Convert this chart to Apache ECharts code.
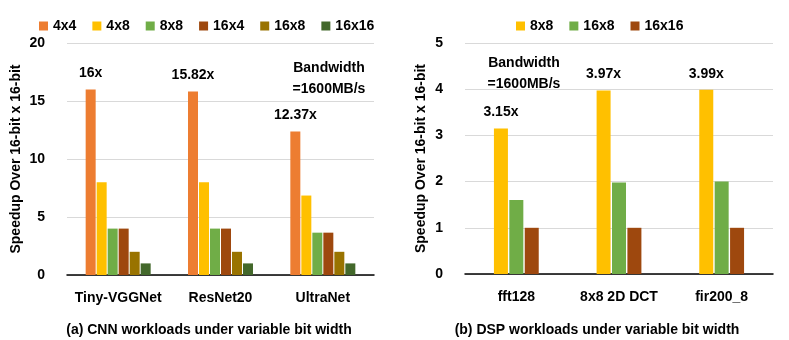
<!DOCTYPE html>
<html>
<head>
<meta charset="utf-8">
<script src="https://cdn.jsdelivr.net/npm/echarts@6/dist/echarts.min.js"></script>
<style>
  html, body { margin: 0; padding: 0; background: #fff; }
  #chart { width: 789px; height: 340px; }
</style>
</head>
<body>
<div id="chart"></div>
<script>
// Categories
const cnnWorkloads = ['Tiny-VGGNet', 'ResNet20', 'UltraNet'];
const dspWorkloads = ['fft128', '8x8 2D DCT', 'fir200_8'];

// (a) CNN speedups per bit width
const cnn4x4 = [16, 15.82, 12.37];
const cnn4x8 = [8, 8, 6.85];
const cnn8x8 = [4, 4, 3.65];
const cnn16x4 = [4, 4, 3.65];
const cnn16x8 = [2, 2, 2];
const cnn16x16 = [1, 1, 1];

// (b) DSP speedups per bit width
const dsp8x8 = [3.15, 3.97, 3.99];
const dsp16x8 = [1.6, 1.98, 2.0];
const dsp16x16 = [1, 1, 1];

const cnnTicks = { min: 0, max: 20, interval: 5 };
const dspTicks = { min: 0, max: 5, interval: 1 };

const FONT = 'Liberation Sans';
const COLORS = {
    '4x4': '#ED7D31', '4x8': '#FFC000', '8x8': '#70AD47',
    '16x4': '#9E480E', '16x8': '#997300', '16x16': '#43682B'
};

const chart = echarts.init(document.getElementById('chart'), null, { renderer: 'canvas' });

function valueAxis(gridIndex, ticks, gap) {
    return {
        type: 'value',
        gridIndex: gridIndex,
        min: ticks.min,
        max: ticks.max,
        interval: ticks.interval,
        name: 'Speedup Over 16-bit x 16-bit',
        nameLocation: 'middle',
        nameGap: gap,
        nameTextStyle: { fontFamily: FONT, fontWeight: 'bold', fontSize: 14, color: '#000' },
        axisLine: { show: false },
        axisTick: { show: false },
        axisLabel: { margin: 22, fontFamily: FONT, fontWeight: 'bold', fontSize: 14, color: '#000' },
        splitLine: { lineStyle: { color: '#D9D9D9', width: 1 } }
    };
}

function categoryAxis(gridIndex, data) {
    return {
        type: 'category',
        gridIndex: gridIndex,
        data: data,
        axisLine: { lineStyle: { color: '#000', width: 1.5 } },
        axisTick: { show: false },
        axisLabel: { interval: 0, margin: 16, fontFamily: FONT, fontWeight: 'bold', fontSize: 14, color: '#000' }
    };
}

function barSeries(name, data, axisIndex, width, color, labelled) {
    return {
        name: name,
        type: 'bar',
        xAxisIndex: axisIndex,
        yAxisIndex: axisIndex,
        data: data,
        barWidth: width,
        barGap: '10%',
        itemStyle: { color: color },
        label: {
            show: labelled,
            position: 'top',
            distance: 9,
            formatter: p => p.value + 'x',
            fontFamily: FONT, fontWeight: 'bold', fontSize: 14, color: '#000'
        }
    };
}

const textStyle = { fontFamily: FONT, fontWeight: 'bold', fontSize: 14, color: '#000', lineHeight: 21 };
const captionStyle = { fontFamily: FONT, fontWeight: 'bold', fontSize: 14, color: '#000' };
const legendText = { fontFamily: FONT, fontWeight: 'bold', fontSize: 14, color: '#000' };

const option = {
    animation: false,
    title: [
        { text: '(a) CNN workloads under variable bit width', left: 204, top: 318, textAlign: 'center', textStyle: captionStyle },
        { text: '(b) DSP workloads under variable bit width', left: 592, top: 318, textAlign: 'center', textStyle: captionStyle },
        { text: 'Bandwidth\n=1600MB/s', left: 324, top: 53, textAlign: 'center', textStyle: textStyle },
        { text: 'Bandwidth\n=1600MB/s', left: 519, top: 48, textAlign: 'center', textStyle: textStyle }
    ],
    legend: [
        {
            data: ['4x4', '4x8', '8x8', '16x4', '16x8', '16x16'],
            left: 34, top: 14,
            itemWidth: 9, itemHeight: 9, itemGap: 16,
            icon: 'rect',
            textStyle: legendText
        },
        {
            data: ['8x8 ', '16x8 ', '16x16 '],
            left: 511, top: 14,
            itemWidth: 9, itemHeight: 9, itemGap: 16,
            icon: 'rect',
            formatter: n => n.trim(),
            textStyle: legendText
        }
    ],
    grid: [
        { left: 67, top: 43, width: 307, height: 232 },
        { left: 465, top: 43, width: 308, height: 231 }
    ],
    xAxis: [categoryAxis(0, cnnWorkloads), categoryAxis(1, dspWorkloads)],
    yAxis: [valueAxis(0, cnnTicks, 44), valueAxis(1, dspTicks, 37)],
    series: [
        barSeries('4x4', cnn4x4, 0, 10, COLORS['4x4'], true),
        barSeries('4x8', cnn4x8, 0, 10, COLORS['4x8'], false),
        barSeries('8x8', cnn8x8, 0, 10, COLORS['8x8'], false),
        barSeries('16x4', cnn16x4, 0, 10, COLORS['16x4'], false),
        barSeries('16x8', cnn16x8, 0, 10, COLORS['16x8'], false),
        barSeries('16x16', cnn16x16, 0, 10, COLORS['16x16'], false),
        // right panel reuses the names with a trailing space so legends stay separate
        barSeries('8x8 ', dsp8x8, 1, 14, COLORS['4x8'], true),
        barSeries('16x8 ', dsp16x8, 1, 14, COLORS['8x8'], false),
        barSeries('16x16 ', dsp16x16, 1, 14, COLORS['16x4'], false)
    ]
};

chart.setOption(option);
</script>
</body>
</html>
